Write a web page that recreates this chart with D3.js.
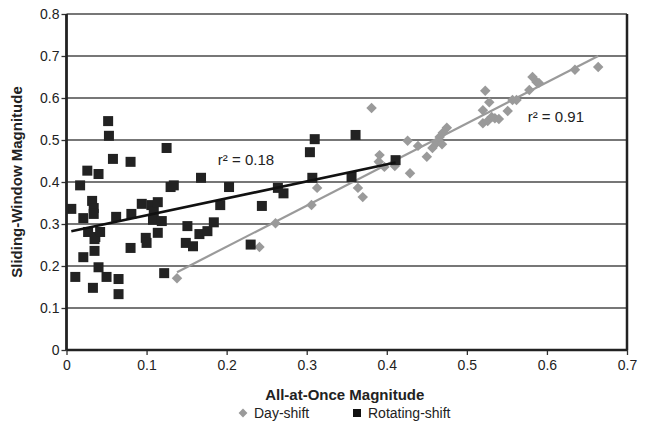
<!DOCTYPE html>
<html>
<head>
<meta charset="utf-8">
<script src="https://cdn.jsdelivr.net/npm/d3@7"></script>
<style>
  body { margin: 0; background: #fff; }
  svg { font-family: "Liberation Sans", Arial, sans-serif; }
</style>
</head>
<body>
<div id="chart"></div>
<script>
// Day-shift points (all-at-once, sliding-window)
var dayX = [0.138, 0.241, 0.261, 0.306, 0.313, 0.364, 0.370, 0.381, 0.391, 0.390,
  0.397, 0.410, 0.426, 0.429, 0.439, 0.450, 0.457, 0.462, 0.466, 0.470,
  0.475, 0.469, 0.523, 0.528, 0.520, 0.520, 0.526, 0.531, 0.535, 0.540,
  0.551, 0.557, 0.562, 0.578, 0.582, 0.587, 0.590, 0.635, 0.664];
var dayY = [0.171, 0.245, 0.302, 0.345, 0.386, 0.386, 0.364, 0.576, 0.464, 0.448,
  0.436, 0.438, 0.498, 0.421, 0.486, 0.460, 0.481, 0.493, 0.507, 0.517,
  0.529, 0.490, 0.617, 0.590, 0.571, 0.540, 0.545, 0.555, 0.552, 0.550,
  0.569, 0.595, 0.595, 0.619, 0.650, 0.638, 0.636, 0.667, 0.674];

// Rotating-shift points
var rotX = [0.006, 0.017, 0.011, 0.021, 0.021, 0.026, 0.027, 0.032, 0.034, 0.034,
  0.035, 0.036, 0.035, 0.033, 0.040, 0.040, 0.042, 0.050, 0.052, 0.053,
  0.058, 0.062, 0.065, 0.065, 0.080, 0.081, 0.080, 0.094, 0.099, 0.100,
  0.106, 0.109, 0.108, 0.114, 0.119, 0.114, 0.122, 0.125, 0.130, 0.134,
  0.151, 0.149, 0.158, 0.166, 0.176, 0.184, 0.168, 0.203, 0.192, 0.244,
  0.230, 0.264, 0.271, 0.304, 0.310, 0.307, 0.361, 0.356, 0.411];
var rotY = [0.336, 0.392, 0.174, 0.314, 0.221, 0.427, 0.281, 0.355, 0.338, 0.324,
  0.264, 0.269, 0.236, 0.148, 0.419, 0.197, 0.281, 0.174, 0.545, 0.510,
  0.455, 0.317, 0.169, 0.133, 0.448, 0.324, 0.243, 0.348, 0.267, 0.255,
  0.345, 0.329, 0.310, 0.352, 0.307, 0.279, 0.183, 0.481, 0.388, 0.392,
  0.295, 0.255, 0.247, 0.276, 0.283, 0.304, 0.410, 0.388, 0.345, 0.343,
  0.251, 0.386, 0.373, 0.471, 0.502, 0.410, 0.512, 0.412, 0.452];

var xTicks = [0, 0.1, 0.2, 0.3, 0.4, 0.5, 0.6, 0.7];
var yTicks = [0, 0.1, 0.2, 0.3, 0.4, 0.5, 0.6, 0.7, 0.8];
var r2Labels = ["r\u00b2 = 0.18", "r\u00b2 = 0.91"];
var legendNames = ["Day-shift", "Rotating-shift"];

var W = 649, H = 428,
  margin = { top: 14, right: 22, bottom: 78, left: 66.5 },
  width = W - margin.left - margin.right,
  height = H - margin.top - margin.bottom;

var x = d3.scaleLinear().domain([0, 0.7]).range([0, width]),
  y = d3.scaleLinear().domain([0, 0.8]).range([height, 0]);

function fit(xs, ys) {
  var n = xs.length, mx = d3.mean(xs), my = d3.mean(ys), sxy = 0, sxx = 0;
  for (var i = 0; i < n; i++) {
    sxy += (xs[i] - mx) * (ys[i] - my);
    sxx += (xs[i] - mx) * (xs[i] - mx);
  }
  var b = sxy / sxx, a = my - b * mx, x0 = d3.min(xs), x1 = d3.max(xs);
  return [[x0, a + b * x0], [x1, a + b * x1]];
}

var svg = d3.select("#chart").append("svg")
  .attr("width", W).attr("height", H)
  .append("g")
  .attr("transform", "translate(" + margin.left + "," + margin.top + ")");

// grid lines
svg.selectAll(".grid").data(yTicks.slice(1)).enter().append("line")
  .attr("x1", 0).attr("x2", width)
  .attr("y1", d => y(d)).attr("y2", d => y(d))
  .attr("stroke", "#4a4a4a").attr("stroke-width", 1.3);

// axes
var xAxis = d3.axisBottom(x).tickValues(xTicks).tickSize(5).tickFormat(d => d === 0 ? "0" : d3.format(".1f")(d));
var yAxis = d3.axisLeft(y).tickValues(yTicks).tickSize(5).tickFormat(d => d === 0 ? "0" : d3.format(".1f")(d));

var gx = svg.append("g").attr("transform", "translate(0," + height + ")").call(xAxis);
var gy = svg.append("g").call(yAxis);
[gx, gy].forEach(function(g) {
  g.select(".domain").remove();
  g.selectAll(".tick line").attr("stroke", "#333").attr("stroke-width", 1.3);
  g.selectAll(".tick text").attr("fill", "#222").style("font-size", "14px")
    .style("font-family", "Liberation Sans, Arial, sans-serif");
});
gx.selectAll(".tick text").attr("dy", "0.95em").attr("y", 7);
gy.selectAll(".tick text").attr("x", -7);

// frame
svg.append("line").attr("x1", 0).attr("x2", 0).attr("y1", 0).attr("y2", height)
  .attr("stroke", "#222").attr("stroke-width", 2.8);
svg.append("line").attr("x1", width).attr("x2", width).attr("y1", 0).attr("y2", height)
  .attr("stroke", "#222").attr("stroke-width", 2.5);
svg.append("line").attr("x1", 0).attr("x2", width).attr("y1", height).attr("y2", height)
  .attr("stroke", "#222").attr("stroke-width", 2.5);

var line = d3.line().x(d => x(d[0])).y(d => y(d[1]));

// day-shift points and trend
var dayPts = dayX.map((v, i) => [v, dayY[i]]);
svg.append("path").attr("d", line(fit(dayX, dayY)))
  .attr("stroke", "#9a9a9a").attr("stroke-width", 2.2).attr("fill", "none");
svg.selectAll(".day").data(dayPts).enter().append("path")
  .attr("class", "day")
  .attr("d", d3.symbol(d3.symbolDiamond2, 70))
  .attr("transform", d => "translate(" + x(d[0]) + "," + y(d[1]) + ")")
  .attr("fill", "#9a9a9a");

// rotating-shift points and trend
var rotPts = rotX.map((v, i) => [v, rotY[i]]);
svg.selectAll(".rot").data(rotPts).enter().append("rect")
  .attr("class", "rot")
  .attr("x", d => x(d[0]) - 5).attr("y", d => y(d[1]) - 5)
  .attr("width", 10).attr("height", 10)
  .attr("fill", "#222");
svg.append("path").attr("d", line(fit(rotX, rotY)))
  .attr("stroke", "#111").attr("stroke-width", 2.6).attr("fill", "none");

// r² labels
svg.append("text").attr("x", x(0.189)).attr("y", y(0.44))
  .style("font-size", "15px").attr("fill", "#222").text(r2Labels[0]);
svg.append("text").attr("x", x(0.576)).attr("y", y(0.543))
  .style("font-size", "15px").attr("fill", "#222").text(r2Labels[1]);

// axis titles
svg.append("text").attr("x", width / 2 - 2).attr("y", height + 50)
  .attr("text-anchor", "middle").style("font-size", "15px").style("font-weight", "bold")
  .attr("fill", "#222").text("All-at-Once Magnitude");
svg.append("text").attr("transform", "translate(" + (-45) + "," + (height / 2) + ") rotate(-90)")
  .attr("text-anchor", "middle").style("font-size", "15px").style("font-weight", "bold")
  .attr("fill", "#222").text("Sliding-Window Magnitude");

// legend
var lg = svg.append("g").attr("transform", "translate(0," + (height + 63) + ")");
lg.append("path").attr("d", d3.symbol(d3.symbolDiamond2, 50))
  .attr("transform", "translate(" + (243 - margin.left) + ",0)").attr("fill", "#9a9a9a");
lg.append("text").attr("x", 254 - margin.left).attr("y", 5).style("font-size", "14px")
  .attr("fill", "#222").text(legendNames[0]);
lg.append("rect").attr("x", 353 - margin.left).attr("y", -4).attr("width", 8).attr("height", 8)
  .attr("fill", "#111");
lg.append("text").attr("x", 368 - margin.left).attr("y", 5).style("font-size", "14px")
  .attr("fill", "#222").text(legendNames[1]);
</script>
</body>
</html>
